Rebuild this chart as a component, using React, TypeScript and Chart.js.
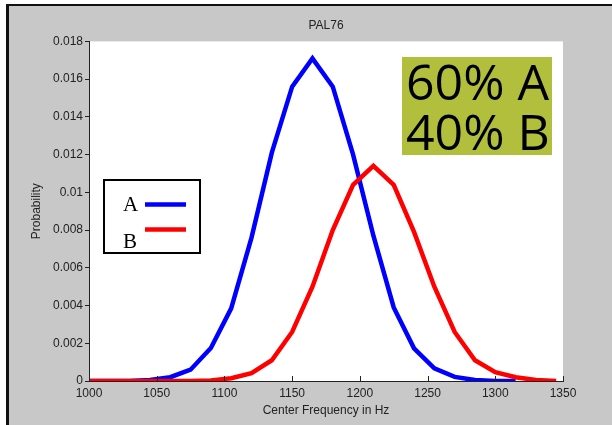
import React, { useEffect, useRef } from 'react';
import { Chart, registerables } from 'chart.js';

Chart.register(...registerables);

// ---- data ----
const freqs = [1000, 1015, 1030, 1045, 1060, 1075, 1090, 1105, 1120, 1135, 1150, 1165, 1180, 1195, 1210, 1225, 1240, 1255, 1270, 1285, 1300, 1315, 1330, 1345];
const seriesA = [0, 0, 0, 0.00005, 0.0002, 0.0006, 0.00175, 0.00385, 0.0076, 0.0121, 0.0156, 0.0171, 0.0156, 0.012, 0.0077, 0.0039, 0.00173, 0.00067, 0.00022, 0.00005, 0, 0];
const seriesB = [0, 0, 0, 0, 0, 0, 0.00003, 0.00015, 0.00042, 0.0011, 0.0026, 0.005, 0.008, 0.0104, 0.0114, 0.0104, 0.0079, 0.005, 0.0026, 0.0011, 0.00047, 0.0002, 0.00005, 0];
const xTicks = [1000, 1050, 1100, 1150, 1200, 1250, 1300, 1350];
const yTicks = [0, 0.002, 0.004, 0.006, 0.008, 0.01, 0.012, 0.014, 0.016, 0.018];
const yTickLabels = ['0', '0.002', '0.004', '0.006', '0.008', '0.01', '0.012', '0.014', '0.016', '0.018'];
const titleText = 'PAL76';
const xTitle = 'Center Frequency in Hz';
const yTitle = 'Probability';
const legendLabels = ['A', 'B'];
const annotationLines = ['60% A', '40% B'];

const seriesColors = ['#0000ff', '#ff0000'];
const sansFont = '"Liberation Sans", Arial, sans-serif';

const decorPlugin = {
  id: 'decor',
  beforeDraw(chart: any) {
    const { ctx, width, height, chartArea: ca } = chart;
    ctx.save();
    ctx.fillStyle = '#ffffff';
    ctx.fillRect(0, 0, width, height);
    ctx.fillStyle = '#c8c8c8';
    ctx.fillRect(7, 5, width - 7, height - 5);
    ctx.fillStyle = '#111111';
    ctx.fillRect(6, 4, 3, height - 4);
    ctx.fillRect(6, 4, width - 6, 2);
    ctx.fillStyle = '#ffffff';
    ctx.fillRect(ca.left, ca.top, ca.right - ca.left, ca.bottom - ca.top);
    ctx.restore();
  },
  afterDraw(chart: any) {
    const { ctx, chartArea: ca } = chart;
    const xs = chart.scales.x;
    ctx.save();
    // inward x ticks
    ctx.strokeStyle = '#222';
    ctx.lineWidth = 1;
    xTicks.forEach((v) => {
      const px = Math.round(xs.getPixelForValue(v)) + 0.5;
      ctx.beginPath();
      ctx.moveTo(px, ca.bottom);
      ctx.lineTo(px, ca.bottom - 5);
      ctx.stroke();
    });

    // legend box
    const lx = 104, ly = 180, lw = 96, lh = 73;
    ctx.fillStyle = '#ffffff';
    ctx.fillRect(lx, ly, lw, lh);
    ctx.strokeStyle = '#000';
    ctx.lineWidth = 2;
    ctx.strokeRect(lx, ly, lw, lh);
    ctx.fillStyle = '#000';
    ctx.font = '21px "Liberation Serif", "Times New Roman", serif';
    ctx.textAlign = 'left';
    ctx.textBaseline = 'alphabetic';
    ctx.fillText(legendLabels[0], 123, 211);
    ctx.fillText(legendLabels[1], 123, 248);
    ctx.lineWidth = 4.5;
    ctx.lineCap = 'butt';
    ctx.strokeStyle = seriesColors[0];
    ctx.beginPath();
    ctx.moveTo(145, 204.5);
    ctx.lineTo(186, 204.5);
    ctx.stroke();
    ctx.strokeStyle = seriesColors[1];
    ctx.beginPath();
    ctx.moveTo(145, 229.5);
    ctx.lineTo(186, 229.5);
    ctx.stroke();

    // annotation box
    ctx.fillStyle = '#b1bf3d';
    ctx.fillRect(402, 57, 150, 98);
    ctx.fillStyle = '#000';
    ctx.font = '50px "Open Sans", "DejaVu Sans", sans-serif';
    ctx.fillText(annotationLines[0], 406, 100);
    ctx.fillText(annotationLines[1], 406, 150);
    ctx.restore();
  },
};

export default function App() {
  const canvasRef = useRef<HTMLCanvasElement | null>(null);

  useEffect(() => {
    document.body.style.margin = '0';
    const canvas = canvasRef.current;
    if (!canvas) return;
    const chart = new Chart(canvas, {
      type: 'line',
      data: {
        datasets: [
          {
            label: legendLabels[0],
            data: seriesA.map((y, i) => ({ x: freqs[i], y })),
            borderColor: seriesColors[0],
            backgroundColor: seriesColors[0],
            borderWidth: 4.5,
            pointRadius: 0,
            tension: 0,
            fill: false,
            order: 2,
          },
          {
            label: legendLabels[1],
            data: seriesB.map((y, i) => ({ x: freqs[i], y })),
            borderColor: seriesColors[1],
            backgroundColor: seriesColors[1],
            borderWidth: 4.5,
            pointRadius: 0,
            tension: 0,
            fill: false,
            order: 1,
          },
        ],
      },
      options: {
        responsive: false,
        animation: false,
        devicePixelRatio: 1,
        layout: { padding: { left: 0, top: 0, right: 49, bottom: 0 } },
        plugins: {
          legend: { display: false },
          tooltip: { enabled: false },
          title: {
            display: true,
            text: titleText,
            fullSize: false,
            color: '#222',
            font: { family: sansFont, size: 12, weight: 'normal' },
            padding: { top: 18, bottom: 9 },
          },
        },
        scales: {
          x: {
            type: 'linear',
            min: 1000,
            max: 1350,
            afterFit: (s: any) => {
              s.height = 44;
            },
            afterBuildTicks: (s: any) => {
              s.ticks = xTicks.map((v) => ({ value: v }));
            },
            grid: { display: false, drawTicks: false },
            border: { display: true, color: '#222', width: 1 },
            ticks: {
              color: '#222',
              padding: 5,
              maxRotation: 0,
              autoSkip: false,
              font: { family: sansFont, size: 12 },
              callback: (v: any) => String(v),
            },
            title: {
              display: true,
              text: xTitle,
              color: '#222',
              font: { family: sansFont, size: 12 },
              padding: { top: 0, bottom: 7 },
            },
          },
          y: {
            type: 'linear',
            min: 0,
            max: 0.018,
            afterFit: (s: any) => {
              s.width = 89;
            },
            afterBuildTicks: (s: any) => {
              s.ticks = yTicks.map((v) => ({ value: v }));
            },
            grid: { display: true, drawOnChartArea: false, drawTicks: true, tickLength: 4, color: '#222' },
            border: { display: true, color: '#222', width: 1 },
            ticks: {
              color: '#222',
              padding: 2,
              autoSkip: false,
              font: { family: sansFont, size: 12 },
              callback: (v: any) => {
                const idx = yTicks.findIndex((t) => Math.abs(t - v) < 1e-9);
                return idx >= 0 ? yTickLabels[idx] : '';
              },
            },
            title: {
              display: true,
              text: yTitle,
              color: '#222',
              font: { family: sansFont, size: 12 },
              padding: { top: 29, bottom: 0 },
            },
          },
        },
      },
      plugins: [decorPlugin],
    } as any);
    return () => chart.destroy();
  }, []);

  return (
    <div style={{ position: 'absolute', left: 0, top: 0, width: 612, height: 425 }}>
      <canvas ref={canvasRef} width={612} height={425} style={{ display: 'block', width: 612, height: 425 }} />
    </div>
  );
}
